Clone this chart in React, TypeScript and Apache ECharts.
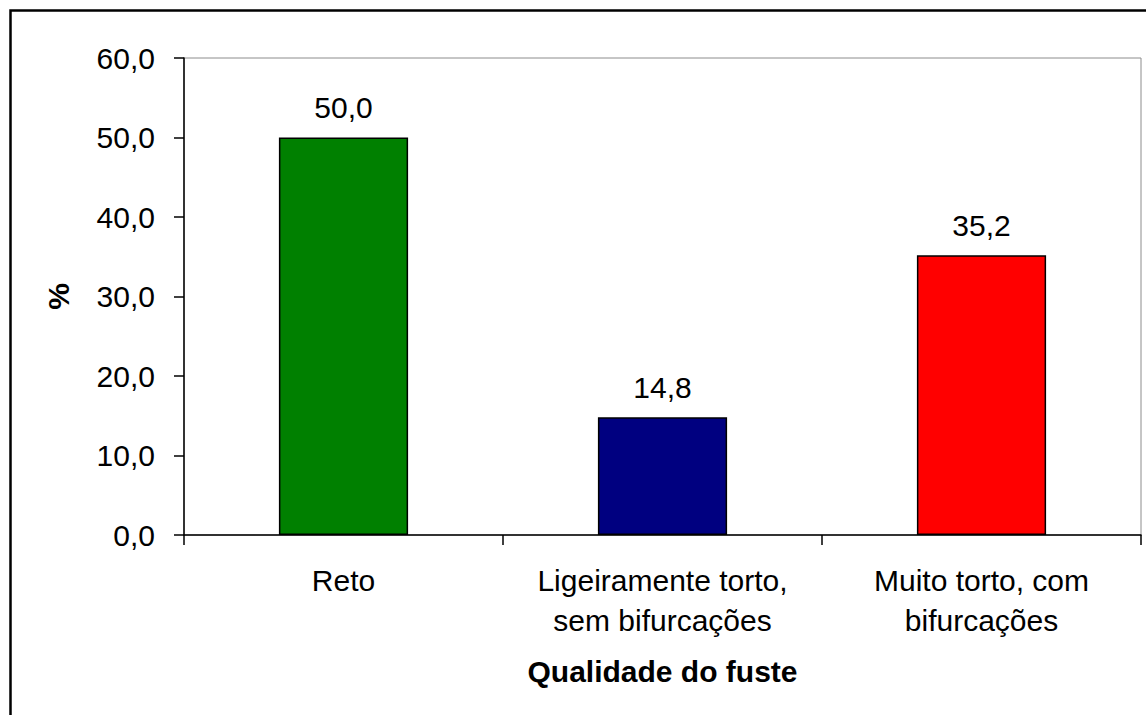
import React, { useEffect, useRef } from "react";
import * as echarts from "echarts";

const categories = ["Reto", "Ligeiramente torto,\nsem bifurcações", "Muito torto, com\nbifurcações"];
const values = [50.0, 14.8, 35.2];
const barColors = ["#008000", "#000080", "#FF0000"];
const yTicks = { min: 0, max: 60, interval: 10 };

const FONT = "'Liberation Sans', Arial, Helvetica, sans-serif";
const FS = 30;
const fmt = (v: number) => v.toFixed(1).replace(".", ",");

export default function App() {
  const ref = useRef<HTMLDivElement>(null);
  useEffect(() => {
    if (!ref.current) return;
    const chart = echarts.init(ref.current, undefined, { renderer: "svg" });
    chart.setOption({
      animation: false,
      backgroundColor: "#ffffff",
      textStyle: { fontFamily: FONT },
      graphic: [
        {
          type: "rect",
          shape: { x: 10.5, y: 10.5, width: 1200, height: 800 },
          style: { fill: "none", stroke: "#000", lineWidth: 2.5 },
          silent: true,
          z: 100,
        },
      ],
      grid: {
        left: 184,
        right: 5,
        top: 58,
        bottom: 180,
        show: true,
        borderColor: "#8c8c8c",
        borderWidth: 1,
        backgroundColor: "transparent",
      },
      xAxis: {
        type: "category",
        data: categories,
        name: "Qualidade do fuste",
        nameLocation: "middle",
        nameGap: 121,
        nameTextStyle: { fontFamily: FONT, fontSize: FS, fontWeight: "bold", color: "#000" },
        axisLine: { lineStyle: { color: "#000", width: 1.5 } },
        axisTick: { show: true, length: 10, lineStyle: { color: "#000", width: 1.5 } },
        axisLabel: {
          fontFamily: FONT,
          fontSize: FS,
          color: "#000",
          lineHeight: 40,
          margin: 25,
          interval: 0,
        },
        splitLine: { show: false },
      },
      yAxis: {
        type: "value",
        min: yTicks.min,
        max: yTicks.max,
        interval: yTicks.interval,
        name: "%",
        nameLocation: "middle",
        nameRotate: 90,
        nameGap: 111,
        nameTextStyle: { fontFamily: FONT, fontSize: FS, fontWeight: "bold", color: "#000" },
        axisLine: { show: true, lineStyle: { color: "#000", width: 1.5 } },
        axisTick: { show: true, length: 10, lineStyle: { color: "#000", width: 1.5 } },
        axisLabel: {
          fontFamily: FONT,
          fontSize: FS,
          color: "#000",
          margin: 29,
          formatter: (v: number) => fmt(v),
        },
        splitLine: { show: false },
      },
      series: [
        {
          type: "bar",
          data: values.map((v, i) => ({
            value: v,
            itemStyle: { color: barColors[i], borderColor: "#000", borderWidth: 1.5 },
          })),
          barWidth: "40.5%",
          label: {
            show: true,
            position: "top",
            distance: 15,
            fontFamily: FONT,
            fontSize: FS,
            color: "#000",
            formatter: (p: any) => fmt(p.value),
          },
        },
      ],
    });
    return () => chart.dispose();
  }, []);
  return (
    <div
      ref={ref}
      style={{ position: "fixed", left: 0, top: 0, width: 1146, height: 715, background: "#fff" }}
    />
  );
}
